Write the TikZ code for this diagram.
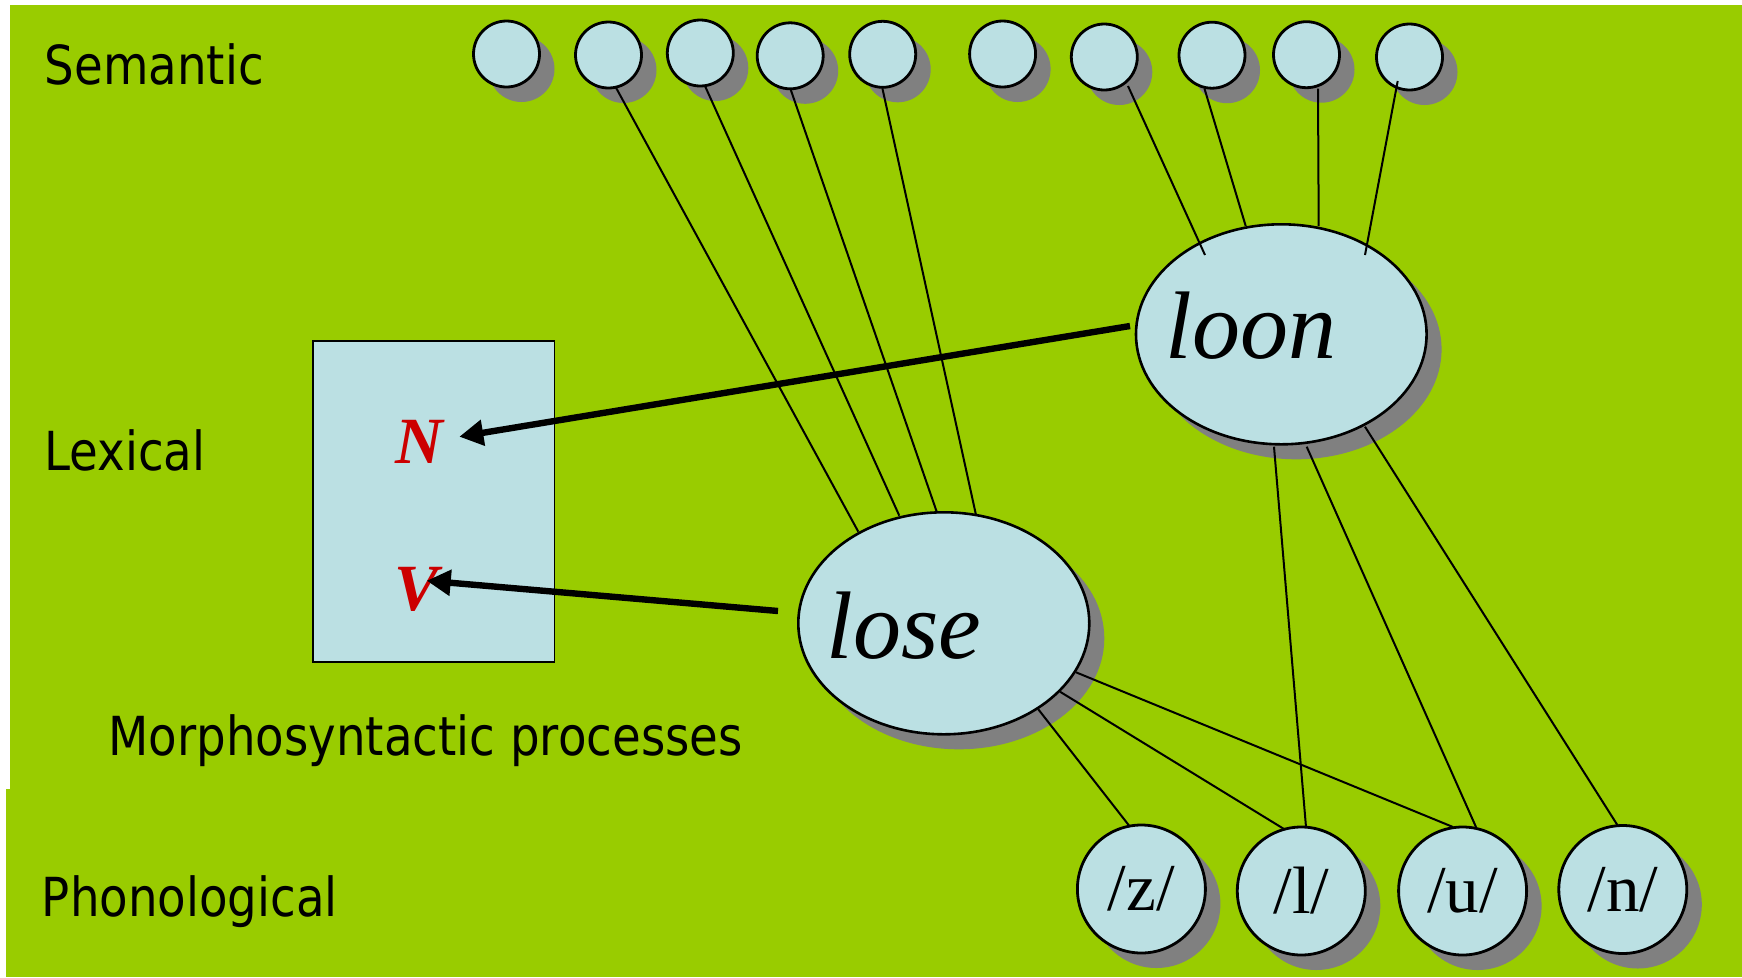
\documentclass[tikz,border=0pt]{standalone}
\usepackage{fontspec}
\setmainfont{Liberation Serif}
\newfontfamily\lblfont[FakeStretch=0.868]{DejaVu Sans}
\usetikzlibrary{shapes.geometric,shadows,arrows.meta,calc}
\definecolor{bggreen}{HTML}{99CC00}
\definecolor{nodeblue}{HTML}{BBE0E3}
\definecolor{shgray}{HTML}{808080}
\definecolor{catred}{HTML}{CC0000}
\begin{document}
\begin{tikzpicture}[x=0.5bp,y=-0.5bp,
  shadowed/.style={drop shadow={shadow xshift=7.5bp,shadow yshift=-7.5bp,fill=shgray,opacity=1}},
  semnode/.style={circle, draw=black, line width=1.4bp, fill=nodeblue, minimum size=33bp, inner sep=0pt, shadowed},
  wordnode/.style={ellipse, draw=black, line width=1.3bp, fill=nodeblue, inner sep=0pt, shadowed},
  phonnode/.style={circle, draw=black, line width=1.4bp, fill=nodeblue, minimum size=64bp, inner sep=0pt, shadowed, font=\fontsize{33.5bp}{33.5bp}\selectfont},
  link/.style={line width=1bp, black},
  catarrow/.style={line width=3.2bp, -{Triangle[length=12bp,width=12.5bp]}},
  lbl/.style={anchor=base west, inner sep=0pt, font=\lblfont\fontsize{26.9bp}{30bp}\selectfont},
  wordlbl/.style={anchor=base west, inner sep=0pt, font=\itshape\fontsize{48bp}{48bp}\selectfont},
  catlbl/.style={anchor=base, inner sep=0pt, text=catred, font=\bfseries\itshape\fontsize{33bp}{33bp}\selectfont}
]
\useasboundingbox (0,0) rectangle (1742,977);
\fill[white] (0,0) rectangle (1742,977);
\fill[bggreen] (10,5) rectangle (1742,790);
\fill[bggreen] (6,789) rectangle (1742,977);

% labels
\node[lbl] (tsem) at (44.5,84) {Semantic};
\node[lbl] (tlex) at (44,470.7) {Lexical};
\node[lbl] (tmor) at (108,755.7) {Morphosyntactic processes};
\node[lbl] (tpho) at (41.5,916) {Phonological};

% lexical box
\node[rectangle, draw=black, line width=0.8bp, fill=nodeblue, minimum width=120.5bp, minimum height=160.35bp, inner sep=0pt] (lexbox) at (433.8,501.4) {};
\node[catlbl] (N) at (419,463) {N};
\node[catlbl] (V) at (417,610.7) {V};

% semantic nodes
\node[semnode] (s1) at (506.5,54) {};
\node[semnode] (s2) at (608.5,55) {};
\node[semnode] (s3) at (700.3,53) {};
\node[semnode] (s4) at (790.2,55.8) {};
\node[semnode] (s5) at (882.7,54.3) {};
\node[semnode] (s6) at (1002.6,54) {};
\node[semnode] (s7) at (1104.3,57) {};
\node[semnode] (s8) at (1212,55.2) {};
\node[semnode] (s9) at (1306.5,54.7) {};
\node[semnode] (s10) at (1409.5,57) {};

% word nodes
\node[wordnode, minimum width=145.3bp, minimum height=110bp] (loon) at (1281.3,334.3) {};
\node[wordnode, minimum width=145.5bp, minimum height=111bp] (lose) at (943.8,623.3) {};
\node[wordlbl] (tloon) at (1165,358) {loon};
\node[wordlbl] (tlose) at (826,658.3) {lose};

% phonological nodes
\node[phonnode] (pz) at (1141.4,889) {/z/};
\node[phonnode] (pl) at (1301.3,891) {/l/};
\node[phonnode] (pu) at (1462.6,891) {/u/};
\node[phonnode] (pn) at (1622.8,889.5) {/n/};

% semantic -> lose
\draw[link] ($(s2)+(7.3,32.3)$) -- ($(lose)+(-85.5,-91.6)$);
\draw[link] ($(s3)+(4.7,33)$) -- ($(lose)+(-44.5,-107.6)$);
\draw[link] ($(s4)+(0.4,33.5)$) -- ($(lose)+(-7.1,-111.6)$);
\draw[link] ($(s5)+(-0.3,34)$) -- ($(lose)+(32.2,-108.3)$);
% semantic -> loon
\draw[link] ($(s7)+(23.7,29)$) -- ($(loon)+(-76.3,-79.3)$);
\draw[link] ($(s8)+(-7.5,33.5)$) -- ($(loon)+(-35.6,-108.3)$);
\draw[link] ($(s9)+(11.5,34)$) -- ($(loon)+(37.4,-108.3)$);
\draw[link] ($(s10)+(-11.8,24)$) -- ($(loon)+(83.7,-79.3)$);
% lose -> phonological
\draw[link] ($(lose)+(94.5,86)$) -- ($(pz)+(-12,-63)$);
\draw[link] ($(lose)+(116.2,68.4)$) -- ($(pl)+(-17.3,-62)$);
\draw[link] ($(lose)+(132.2,49)$) -- ($(pu)+(-9.6,-64)$);
% loon -> phonological
\draw[link] ($(loon)+(-7.3,112.4)$) -- ($(pl)+(4.7,-64)$);
\draw[link] ($(loon)+(25.4,112.4)$) -- ($(pu)+(13.4,-64)$);
\draw[link] ($(loon)+(83.7,92.4)$) -- ($(pn)+(-4.8,-63.5)$);

% category arrows
\draw[catarrow] ($(loon)+(-151.3,-8.3)$) -- ($(N.base)+(40.3,-26.3)$);
\draw[catarrow] ($(lose)+(-165.8,-12.3)$) -- ($(V.base)+(9.7,-30)$);
\end{tikzpicture}
\end{document}
